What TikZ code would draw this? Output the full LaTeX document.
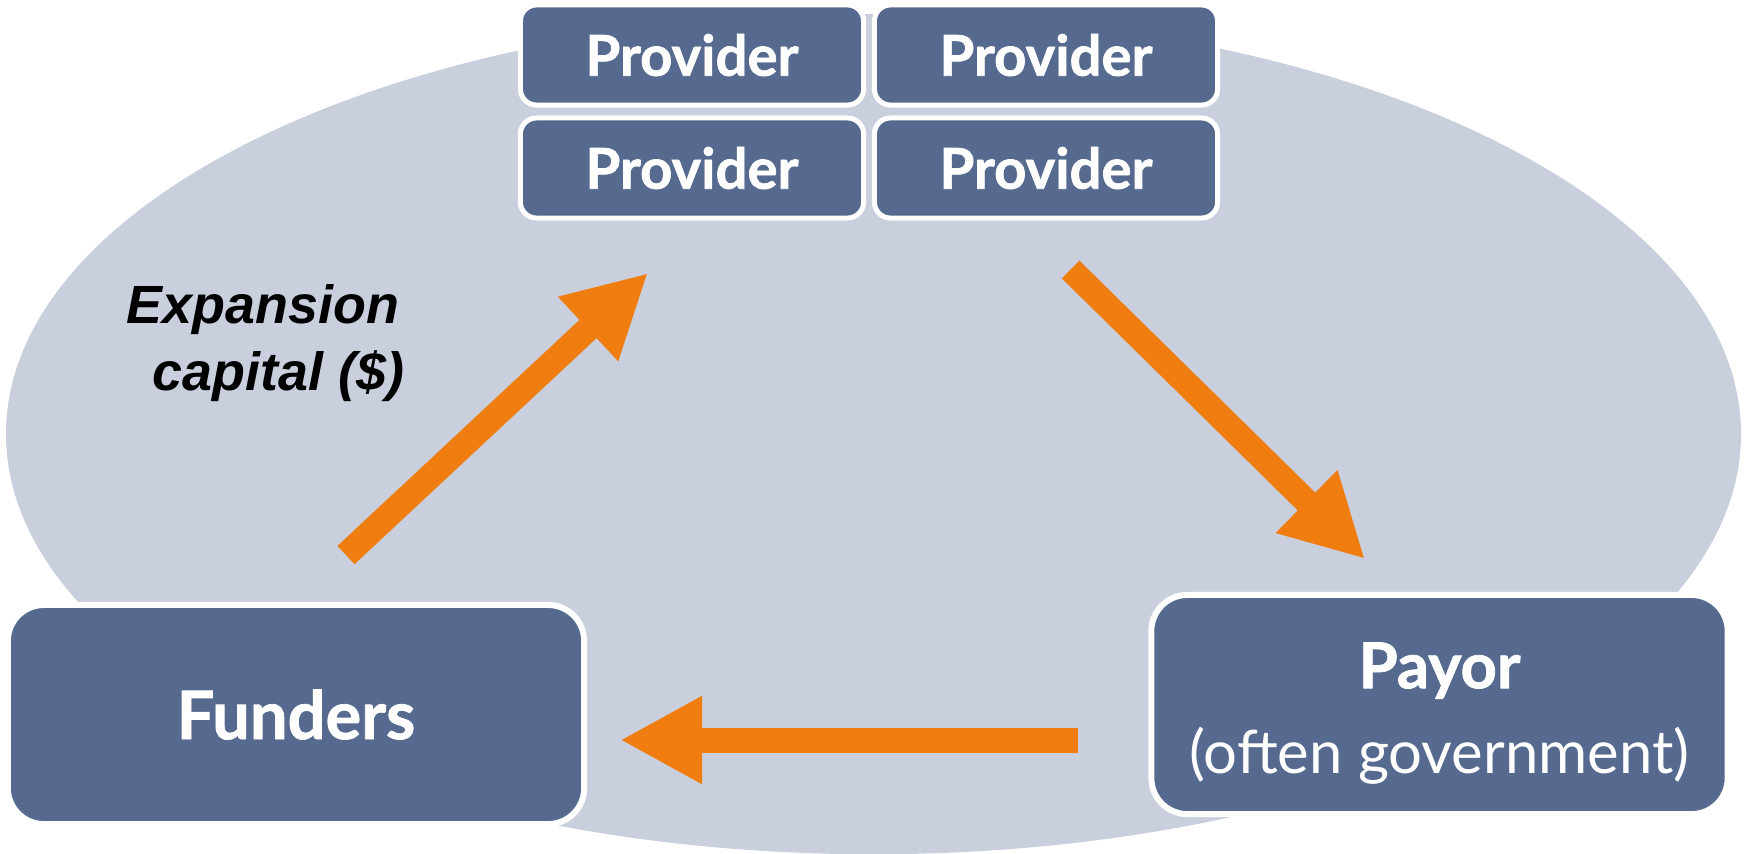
\documentclass[tikz,border=0pt]{standalone}
\usepackage{fontspec}
\usetikzlibrary{arrows.meta}
\newfontfamily\boxfont{Lato}[BoldFeatures={FakeBold=1.2}]
\newfontfamily\arialf{Liberation Sans}
\definecolor{ellfill}{HTML}{C9CFDD}
\definecolor{boxblue}{HTML}{566A8F}
\definecolor{arrorange}{HTML}{EF7D10}
\tikzset{
  provbox/.style={fill=boxblue, draw=white, line width=0.05cm, rounded corners=0.16cm,
    minimum width=3.43cm, minimum height=1.0cm, inner sep=0pt,
    text=white, font=\boxfont\bfseries\fontsize{16}{19}\selectfont},
  bigbox/.style={fill=boxblue, draw=white, line width=0.06cm, rounded corners=0.36cm,
    minimum width=5.76cm, minimum height=2.19cm, inner sep=0pt,
    text=white, align=center},
  fatarrow/.style={draw=arrorange, line width=0.25cm, line cap=butt,
    -{Triangle[length=0.82cm,width=0.82cm]}},
  labeltext/.style={font=\arialf\bfseries\itshape\fontsize{15.3}{18}\selectfont, text=black, inner sep=0pt}
}
\begin{document}
\begin{tikzpicture}[x=0.01cm, y=-0.01cm]
\useasboundingbox (0,0) rectangle (1746,853);
\begin{scope}
\clip (0,0) rectangle (1746,853);
\fill[ellfill] (873.5,434) ellipse [x radius=8.67cm, y radius=4.2cm];
\end{scope}

\node[provbox] (p1) at (692,55) {Provider};
\node[provbox] (p2) at (1046,55) {Provider};
\node[provbox] (p3) at (692,168) {Provider};
\node[provbox] (p4) at (1046,168) {Provider};

\node[bigbox, font=\boxfont\bfseries\fontsize{19}{22}\selectfont] (funders) at (296,714.5) {Funders};
\node[bigbox] (payor) at (1439.5,704.5) {\rule{0pt}{18pt}{\boxfont\bfseries\fontsize{18}{22}\selectfont Payor}\\[7pt]{\boxfont\fontsize{17}{20}\selectfont (often government)}};

\coordinate (a1s) at (346,555);
\coordinate (a1e) at (648,273);
\coordinate (a2s) at (1070.6,269.5);
\coordinate (a2e) at (1365,559);
\coordinate (a3s) at (1078,740);
\coordinate (a3e) at (620,740);
\draw[fatarrow] (a1s) -- (a1e);
\draw[fatarrow] (a2s) -- (a2e);
\draw[fatarrow] (a3s) -- (a3e);

\node[labeltext, anchor=base] (lab1) at (263,323) {Expansion};
\node[labeltext, anchor=base] (lab2) at (278.5,390) {capital (\$)};
\end{tikzpicture}
\end{document}
